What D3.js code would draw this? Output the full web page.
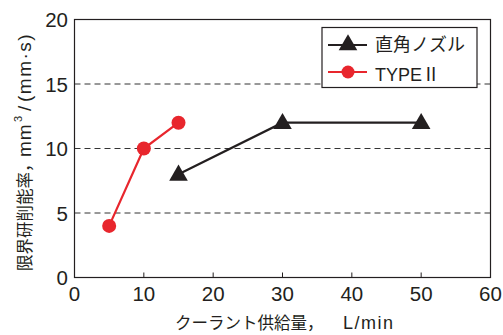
<!DOCTYPE html>
<html><head><meta charset="utf-8">
<script src="https://cdn.jsdelivr.net/npm/d3@7"></script>
<style>body{margin:0;background:#fff}text{font-family:"Liberation Sans","Noto Sans CJK JP",sans-serif;fill:#231f20}</style>
</head><body><svg id="c" width="503" height="335"></svg>
<script>
const seriesNames = ["直角ノズル", "TYPEⅡ"];
const nozzleX = [15, 30, 50];
const nozzleY = [8, 12, 12];
const typeX = [5, 10, 15];
const typeY = [4, 10, 12];
const xTicks = [0, 10, 20, 30, 40, 50, 60];
const yTicks = [0, 5, 10, 15, 20];
const gridY = [5, 10, 15];
const xTitleJa = "クーラント供給量，";
const xTitleUnit = "L/min";
const yTitleJa = "限界研削能率，";

const svg = d3.select("#c");
const L = 74.5, R = 490.5, T = 19.5, B = 277.5;
const x = d3.scaleLinear().domain([0, 60]).range([L, R]);
const y = d3.scaleLinear().domain([0, 20]).range([B, T]);

// grid
svg.selectAll(".g").data(gridY).enter().append("line")
  .attr("x1", L).attr("x2", R).attr("y1", d => y(d)).attr("y2", d => y(d))
  .attr("stroke", "#333").attr("stroke-width", 1).attr("stroke-dasharray", "6,4");

// frame
svg.append("rect").attr("x", L).attr("y", T).attr("width", R - L).attr("height", B - T)
  .attr("fill", "none").attr("stroke", "#231f20").attr("stroke-width", 1.2);

// x ticks inward
svg.selectAll(".xt").data(xTicks.slice(1, -1)).enter().append("line")
  .attr("x1", d => x(d)).attr("x2", d => x(d)).attr("y1", B).attr("y2", B - 5)
  .attr("stroke", "#231f20").attr("stroke-width", 1);
svg.selectAll(".xl").data(xTicks).enter().append("text")
  .attr("x", d => x(d)).attr("y", 301).attr("text-anchor", "middle")
  .attr("font-size", 20.5).text(d => d);
svg.selectAll(".yl").data(yTicks).enter().append("text")
  .attr("x", 68).attr("y", d => y(d) + 7.5).attr("text-anchor", "end")
  .attr("font-size", 20.5).text(d => d);

// x title
svg.append("text").attr("x", 175).attr("y", 329).attr("font-size", 16.5).text(xTitleJa);
svg.append("text").attr("x", 343).attr("y", 329).attr("font-size", 18)
  .attr("letter-spacing", 1.5).text(xTitleUnit);

// y title (rotated frame: x = -screenY)
const yg = svg.append("g").attr("transform", "translate(31,0) rotate(-90)");
yg.append("text").attr("x", -271).attr("y", 0).attr("font-size", 16.5).text(yTitleJa);
yg.append("text").attr("x", -157).attr("y", 0).attr("font-size", 19).attr("letter-spacing", 1).text("mm");
yg.append("text").attr("x", -122).attr("y", -9).attr("font-size", 11).text("3");
yg.append("text").attr("x", -111).attr("y", 0).attr("font-size", 19).text("/");
yg.append("text").attr("x", -102).attr("y", 0).attr("font-size", 19)
  .attr("letter-spacing", 1.5).text("(mm·s)");

const line = d3.line().x(d => x(d[0])).y(d => y(d[1]));
const nozzle = nozzleX.map((v, i) => [v, nozzleY[i]]);
const typeII = typeX.map((v, i) => [v, typeY[i]]);
const tri = d3.symbol().type(d3.symbolTriangle).size(150);

svg.append("path").attr("d", line(nozzle)).attr("fill", "none").attr("stroke", "#231f20").attr("stroke-width", 2.2);
svg.selectAll(".tri").data(nozzle).enter().append("path").attr("d", tri)
  .attr("transform", d => `translate(${x(d[0])},${y(d[1]) + 1})`).attr("fill", "#231f20");

svg.append("path").attr("d", line(typeII)).attr("fill", "none").attr("stroke", "#e8262d").attr("stroke-width", 2.2);
svg.selectAll(".cir").data(typeII).enter().append("circle")
  .attr("cx", d => x(d[0])).attr("cy", d => y(d[1])).attr("r", 7).attr("fill", "#e8262d");

// legend
svg.append("rect").attr("x", 322).attr("y", 27.5).attr("width", 155).attr("height", 60)
  .attr("fill", "#fff").attr("stroke", "#231f20").attr("stroke-width", 1.2);
svg.append("line").attr("x1", 328).attr("x2", 367).attr("y1", 45).attr("y2", 45).attr("stroke", "#231f20").attr("stroke-width", 2.2);
svg.append("path").attr("d", tri).attr("transform", "translate(348,45)").attr("fill", "#231f20");
svg.append("line").attr("x1", 328).attr("x2", 367).attr("y1", 72).attr("y2", 72).attr("stroke", "#e8262d").attr("stroke-width", 2.2);
svg.append("circle").attr("cx", 348).attr("cy", 72).attr("r", 6.5).attr("fill", "#e8262d");
svg.append("text").attr("x", 375).attr("y", 51).attr("font-size", 18).text(seriesNames[0]);
svg.append("text").attr("x", 375).attr("y", 81).attr("font-size", 18).text(seriesNames[1]);
</script></body></html>
